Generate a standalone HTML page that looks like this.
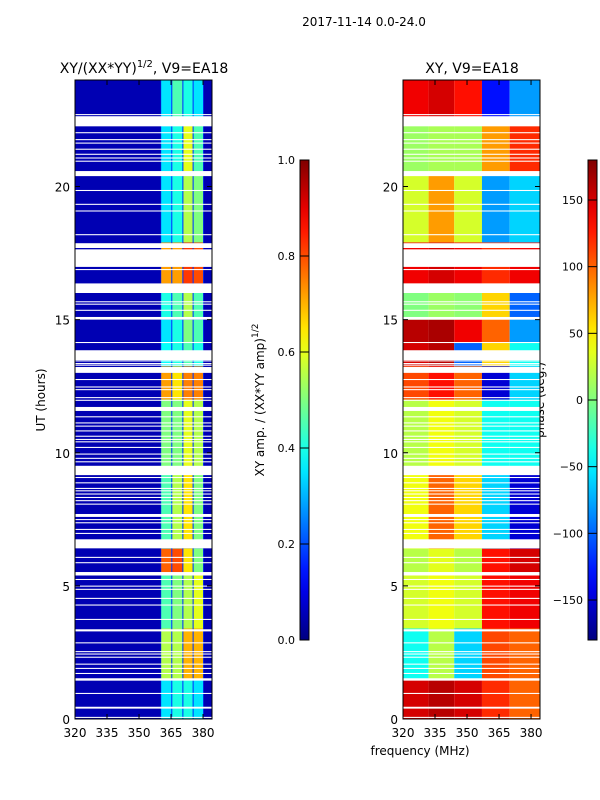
<!DOCTYPE html>
<html><head><meta charset="utf-8"><style>
html,body{margin:0;padding:0;background:#fff;}
svg{display:block;font-family:"DejaVu Sans","Liberation Sans",sans-serif;}
</style></head><body>
<svg id="fig" width="600" height="800" viewBox="0 0 600 800" xmlns="http://www.w3.org/2000/svg">
<text x="364" y="26" font-size="12" text-anchor="middle">2017-11-14 0.0-24.0</text>
<text x="144" y="73" font-size="14" text-anchor="middle">XY/(XX*YY)<tspan dy="-6" font-size="10">1/2</tspan><tspan dy="6">, V9=EA18</tspan></text>
<text x="472" y="73" font-size="14" text-anchor="middle">XY, V9=EA18</text>
<text transform="translate(45,400) rotate(-90)" font-size="12" text-anchor="middle">UT (hours)</text>
<text x="420" y="755" font-size="12" text-anchor="middle">frequency (MHz)</text>
<text transform="translate(264,400) rotate(-90)" font-size="12" text-anchor="middle">XY amp. / (XX*YY amp)<tspan dy="-6" font-size="9">1/2</tspan></text>
<text transform="translate(544,400) rotate(-90)" font-size="12" text-anchor="middle">phase (deg.)</text>
<g id="layer"></g>
</svg>
<script>
// ---- data ----
const hourBreaks = [0, 1.5, 3.4, 5.5, 6.4, 9.2, 12.0, 13.25, 14.15, 15.0, 16.36, 17.9, 20.5, 22.4, 24];
// amplitude for 4 bright sub-bands (360-365,365.6-370.3,370.8-375.1,375.6-380)
const ampBand1 = [0.35,0.55,0.45,0.78,0.45,0.5,0.72,0.38,0.35,0.40,0.72,0.35,0.35,0.35];
const ampBand2 = [0.40,0.55,0.50,0.80,0.55,0.5,0.65,0.40,0.40,0.45,0.72,0.40,0.40,0.45];
const ampBand3 = [0.40,0.70,0.55,0.65,0.65,0.6,0.75,0.45,0.50,0.55,0.82,0.55,0.60,0.40];
const ampBand4 = [0.35,0.70,0.60,0.50,0.50,0.55,0.75,0.40,0.45,0.45,0.80,0.50,0.45,0.35];
const ampBase = 0.05;
const ampSep = 0.18;
// phase (deg) per frequency column (320-332,332-344,344-357,357-370,370-384)
const phCol1 = [150, -40, 30, 20, 40, 20, 110, 150, 160, 0, 140, 30, 10, 140];
const phCol2 = [160, 20, 40, 35, 100, 40, 130, 160, 165, 10, 150, 80, 15, 150];
const phCol3 = [150, -60, 30, 20, 60, 30, 100, -100, 140, 5, 140, 30, 15, 130];
const phCol4 = [120, 110, 130, 130, -60, -40, -150, 60, 100, 60, 120, -80, 80, -130];
const phCol5 = [100, 100, 140, 150, -150, -40, -60, -40, -80, -100, 140, -60, 120, -80];
const gaps = [[0.04,0.08],[0.39,0.46],[0.94,0.98],[1.44,1.53],[1.69,1.73],[1.88,1.92],[2.04,2.08],[2.30,2.34],[2.42,2.46],[2.51,2.55],[2.84,2.88],[3.29,3.37],[3.72,3.76],[4.26,4.30],[4.51,4.55],[4.85,4.89],[4.97,5.01],[5.22,5.26],[5.39,5.52],[5.85,5.89],[6.05,6.09],[6.41,6.75],[6.95,6.99],[7.10,7.14],[7.35,7.39],[7.47,7.51],[7.59,7.70],[8.05,8.09],[8.18,8.22],[8.30,8.34],[8.43,8.47],[8.55,8.59],[8.64,8.68],[8.85,8.89],[9.05,9.09],[9.16,9.51],[9.64,9.68],[9.77,9.81],[9.93,9.97],[10.18,10.22],[10.39,10.43],[10.48,10.52],[10.60,10.64],[10.80,10.84],[10.98,11.02],[11.10,11.14],[11.33,11.37],[11.57,11.72],[11.95,11.99],[12.05,12.09],[12.35,12.39],[12.45,12.49],[12.73,12.77],[13.0,13.22],[13.27,13.31],[13.33,13.37],[13.43,13.47],[13.48,13.85],[14.12,14.16],[15.0,15.1],[15.33,15.37],[15.56,15.60],[15.65,15.69],[16.0,16.36],[16.86,16.90],[16.98,17.64],[17.69,17.87],[18.17,18.21],[19.06,19.10],[19.31,19.35],[19.83,19.87],[20.39,20.58],[20.93,20.97],[21.05,21.09],[21.19,21.23],[21.38,21.42],[21.61,21.65],[21.74,21.78],[22.0,22.04],[22.26,22.64],[22.68,22.72]];
const yTicks = [0,5,10,15,20];
const xTicks = [320,335,350,365,380];
const ampTicks = [0.0,0.2,0.4,0.6,0.8,1.0];
const phTicks = [-150,-100,-50,0,50,100,150];

// ---- geometry ----
const NS='http://www.w3.org/2000/svg';
const layer=document.getElementById('layer');
const Y0=719, Y1=80, XMIN=320, XMAX=384.2;
const yOf=h=>Y0-(h/24)*(Y0-Y1);
function xScale(left){return f=>left+(f-XMIN)/(XMAX-XMIN)*137;}
function jet(v){v=Math.max(0,Math.min(1,v));
 const r=Math.max(0,Math.min(1,1.5-Math.abs(4*v-3))),g=Math.max(0,Math.min(1,1.5-Math.abs(4*v-2))),b=Math.max(0,Math.min(1,1.5-Math.abs(4*v-1)));
 return 'rgb('+Math.round(r*255)+','+Math.round(g*255)+','+Math.round(b*255)+')';}
function el(tag,attrs,parent){const e=document.createElementNS(NS,tag);for(const k in attrs)e.setAttribute(k,attrs[k]);(parent||layer).appendChild(e);return e;}
function rect(x0,x1,h0,h1,fill,g){return el('rect',{x:x0,y:yOf(h1),width:x1-x0,height:yOf(h0)-yOf(h1),fill:fill},g);}

function axes(left,name){
 const xs=xScale(left);
 const g=el('g',{});
 
 
 el('rect',{x:left,y:Y1,width:137,height:Y0-Y1,fill:'none',stroke:'#000','stroke-width':1},g);
 yTicks.forEach(t=>{const y=yOf(t);
  el('line',{x1:left,x2:left+5,y1:y,y2:y,stroke:'#000'},g);
  el('line',{x1:left+137,x2:left+132,y1:y,y2:y,stroke:'#000'},g);
  const tx=el('text',{x:left-5,y:y+5,'font-size':12,'text-anchor':'end'},g);tx.textContent=t;
  
  });
 xTicks.forEach(t=>{const x=xs(t);
  el('line',{x1:x,x2:x,y1:Y0,y2:Y0-5,stroke:'#000'},g);
  el('line',{x1:x,x2:x,y1:Y1,y2:Y1+5,stroke:'#000'},g);
  const tx=el('text',{x:x,y:737,'font-size':12,'text-anchor':'middle'},g);tx.textContent=t;
  
  });
}

// ---- left amplitude panel ----
(function(){
 const L=75,xs=xScale(L);const g=el('g',{});
 
 
 rect(L,L+137,0,24,jet(ampBase),g);
 const bands=[[360.4,365.1,ampBand1],[365.6,370.3,ampBand2],[370.8,375.1,ampBand3],[375.6,380.0,ampBand4]];
 for(let i=0;i<hourBreaks.length-1;i++){
  rect(xs(360.2),xs(380.3),hourBreaks[i],hourBreaks[i+1],jet(ampSep),g);
  bands.forEach(b=>{const c=rect(xs(b[0]),xs(b[1]),hourBreaks[i],hourBreaks[i+1],jet(b[2][i]),g);
   
   });
 }
 gaps.forEach(gp=>rect(L,L+137,gp[0],gp[1],'#fff',g));
 axes(L,'left');
})();

// ---- right phase panel ----
(function(){
 const L=403,xs=xScale(L);const g=el('g',{});
 
 
 const cols=[[320,332,phCol1],[332,344,phCol2],[344,357,phCol3],[357,370,phCol4],[370,384.2,phCol5]];
 for(let i=0;i<hourBreaks.length-1;i++){
  cols.forEach(c=>{const r=rect(xs(c[0]),xs(c[1]),hourBreaks[i],hourBreaks[i+1],jet((c[2][i]+180)/360),g);
   
   });
 }
 gaps.forEach(gp=>rect(L,L+137,gp[0],gp[1],'#fff',g));
 axes(L,'right');
})();

// ---- colorbars ----
function colorbar(x,ticks,vmin,vmax,fmt,name,id){
 const g=el('g',{});
 
 
 const grad=el('linearGradient',{id:id,x1:0,y1:1,x2:0,y2:0},g);
 for(let i=0;i<=20;i++)el('stop',{offset:i/20,'stop-color':jet(i/20)},grad);
 el('rect',{x:x,y:160,width:9,height:480,fill:'url(#'+id+')',stroke:'#000','stroke-width':1},g);
 ticks.forEach(t=>{const y=640-(t-vmin)/(vmax-vmin)*480;
  el('line',{x1:x,x2:x+9,y1:y,y2:y,stroke:'#000'},g);
  const tx=el('text',{x:x-5,y:y+4,'font-size':11,'text-anchor':'end'},g);tx.textContent=fmt(t);
  
  });
}
colorbar(300,ampTicks,0,1,t=>t.toFixed(1),'amplitude-colorbar','g1');
colorbar(588,phTicks,-180,180,t=>String(t).replace('-','\u2212'),'phase-colorbar','g2');
</script>
</body></html>
